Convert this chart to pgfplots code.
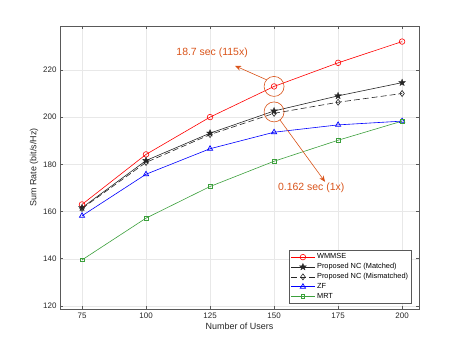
\documentclass[border=0pt]{standalone}
\usepackage{fontspec}
\setmainfont{Liberation Sans}
\usepackage{pgfplots}
\pgfplotsset{compat=1.18}
\usetikzlibrary{arrows.meta}
\definecolor{annot}{RGB}{217,83,25}
\definecolor{mgreen}{RGB}{60,160,60}
\definecolor{mgray}{RGB}{38,38,38}
\pgfdeclareplotmark{fstar}{%
  \pgfpathmoveto{\pgfpointpolar{90}{\pgfplotmarksize}}%
  \pgfpathlineto{\pgfpointpolar{126}{0.42\pgfplotmarksize}}%
  \pgfpathlineto{\pgfpointpolar{162}{\pgfplotmarksize}}%
  \pgfpathlineto{\pgfpointpolar{198}{0.42\pgfplotmarksize}}%
  \pgfpathlineto{\pgfpointpolar{234}{\pgfplotmarksize}}%
  \pgfpathlineto{\pgfpointpolar{270}{0.42\pgfplotmarksize}}%
  \pgfpathlineto{\pgfpointpolar{306}{\pgfplotmarksize}}%
  \pgfpathlineto{\pgfpointpolar{342}{0.42\pgfplotmarksize}}%
  \pgfpathlineto{\pgfpointpolar{18}{\pgfplotmarksize}}%
  \pgfpathlineto{\pgfpointpolar{54}{0.42\pgfplotmarksize}}%
  \pgfpathclose
  \pgfusepathqfillstroke}
\begin{document}
\begin{tikzpicture}
\useasboundingbox (-60bp,-39bp) rectangle (403bp,309bp);
\begin{axis}[
  at={(0,0)}, anchor=south west,
  scale only axis, width=359bp, height=283bp,
  xmin=66.4, xmax=206.6, ymin=118.7, ymax=238.6,
  xtick={75,100,125,150,175,200},
  ytick={120,140,160,180,200,220},
  grid=major,
  major grid style={gray!18, line width=0.4pt},
  axis line style={gray!70!black, line width=0.5pt},
  tick style={gray!70!black, line width=0.5pt},
  tick align=inside,
  major tick length=3bp,
  /pgf/number format/assume math mode=true,
  ticklabel style={font=\fontsize{8}{9}\selectfont, text=mgray},
  xlabel={Number of Users},
  ylabel={Sum Rate (bit/s/Hz)},
  label style={font=\fontsize{9}{10}\selectfont, text=mgray},
  xlabel style={yshift=2bp},
  ylabel style={yshift=-2bp},
  legend style={at={(0.98,0.02)}, anchor=south east, font=\fontsize{7.4}{8.8}\selectfont,
    draw=gray!70!black, line width=0.5pt, fill=white, inner sep=1.5bp, row sep=-0.9bp,
    cells={anchor=west}},
  legend image code/.code={\draw[mark repeat=2,mark phase=2] plot coordinates {(0cm,0cm)(0.42cm,0cm)(0.84cm,0cm)};},
  every axis plot/.append style={line width=0.6pt},
]
\addplot[red, mark=o, mark size=2.8bp] coordinates {(75,163.0)(100,184.2)(125,200.0)(150,213.0)(175,223.0)(200,232.0)};
\addlegendentry{WMMSE}
\addplot[mgray, mark=fstar, mark size=3.6bp, mark options={fill=mgray, line width=0.3pt}] coordinates {(75,161.6)(100,181.6)(125,193.2)(150,202.6)(175,209.0)(200,214.6)};
\addlegendentry{Proposed NC (Matched)}
\addplot[mgray, dashed, dash pattern=on 6bp off 3bp, mark=diamond, mark size=3bp, mark options={solid}] coordinates {(75,161.3)(100,180.8)(125,192.6)(150,201.6)(175,206.3)(200,210.0)};
\addlegendentry{Proposed NC (Mismatched)}
\addplot[blue, mark=triangle, mark size=3bp, mark options={line width=0.7pt}] coordinates {(75,158.2)(100,175.8)(125,186.6)(150,193.6)(175,196.7)(200,198.3)};
\addlegendentry{ZF}
\addplot[mgreen, mark=square, mark size=1.8bp] coordinates {(75,139.5)(100,157.2)(125,170.6)(150,181.3)(175,190.2)(200,198.3)};
\addlegendentry{MRT}
\draw[annot, line width=0.6pt] (axis cs:150,213.0) circle (10bp);
\draw[annot, line width=0.6pt] (axis cs:150,202.2) circle (10bp);
\draw[annot, line width=0.6pt, -{Stealth[length=6bp,width=5bp]}] (axis cs:147.1,215.8) -- (axis cs:134.8,221.7);
\draw[annot, line width=0.6pt, -{Stealth[length=6bp,width=5bp]}] (axis cs:152.3,198.8) -- (axis cs:169.9,172.6);
\node[text=annot, font=\fontsize{10.5}{12}\selectfont] at (axis cs:125.8,227.2) {18.7 sec (115x)};
\node[text=annot, font=\fontsize{10.5}{12}\selectfont] at (axis cs:164.5,170.2) {0.162 sec (1x)};
\end{axis}
\end{tikzpicture}
\end{document}
